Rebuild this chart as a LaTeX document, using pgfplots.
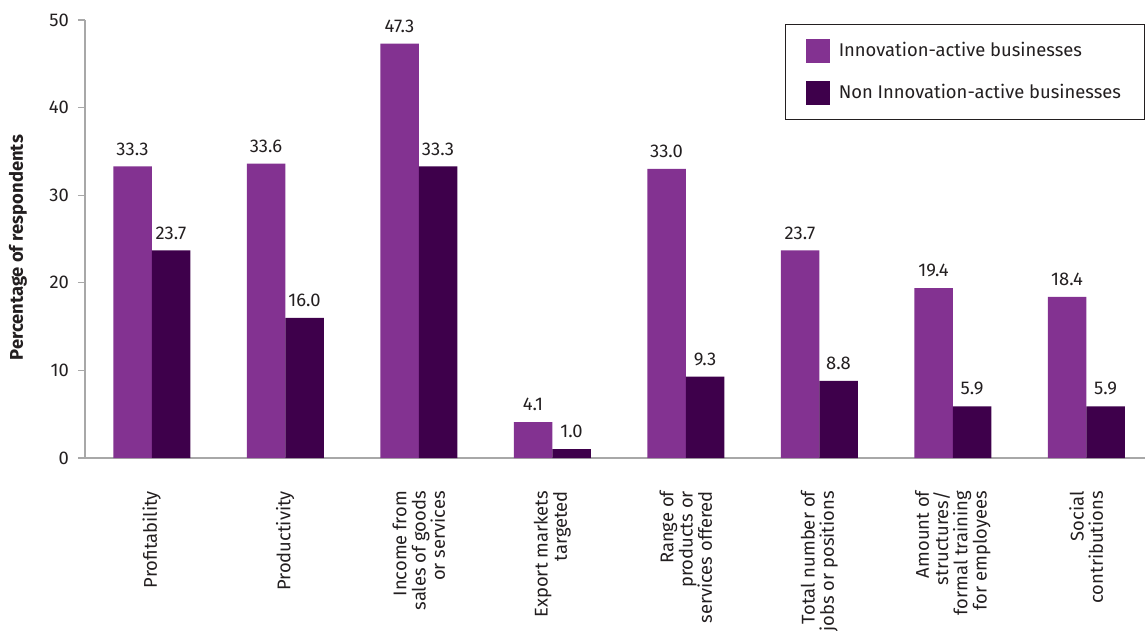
\documentclass[border=0pt]{standalone}
\usepackage{pgfplots}
\pgfplotsset{compat=1.18}
\usepackage{fontspec}
\setmainfont{Fira Sans}
\definecolor{innov}{HTML}{833291}
\definecolor{noninnov}{HTML}{3E004B}
\definecolor{txt}{HTML}{231F20}
\definecolor{axgray}{HTML}{A8A8A8}
\newcommand{\lblfont}{\fontsize{9.2}{9.6}\selectfont}
\begin{document}
\begin{tikzpicture}
\path[use as bounding box] (-42.5pt,-86.5pt) rectangle (530pt,229pt);
\begin{axis}[
  scale only axis,
  width=530pt, height=219pt,
  xmin=-0.5, xmax=7.44,
  ymin=0, ymax=50,
  ytick={0,10,20,30,40,50},
  xtick={0,1,2,3,4,5,6,7},
  xticklabels={Profitability,Productivity,{Income from\\sales of goods\\or services},{Export markets\\targeted},{Range of\\products or\\services offered},{Total number of\\jobs or positions},{Amount of\\structures/\\formal training\\for employees},{Social\\contributions}},
  extra x ticks={-0.5,0.5,1.5,2.5,3.5,4.5,5.5,6.5,7.5},
  extra x tick labels={},
  extra x tick style={major tick length=4.5pt, tick style={axgray, line width=0.6pt}},
  axis x line*=bottom, axis y line*=left,
  axis line style={-, axgray, line width=0.6pt},
  tick align=outside,
  x tick style={draw=none},
  y tick style={axgray, line width=0.6pt},
  major tick length=3.5pt,
  /pgf/number format/assume math mode=true,
  tick label style={font=\lblfont, text=txt},
  yticklabel style={xshift=-1pt},
  xticklabel style={rotate=90, anchor=east, align=right, xshift=-9.5pt},
  ylabel={\bfseries Percentage of respondents},
  ylabel style={at={(axis description cs:-0.0632,0.48)}, anchor=center, font=\lblfont, text=txt},
  ybar=0pt, bar width=19.25pt,
  nodes near coords,
  nodes near coords style={font=\lblfont, text=txt, yshift=2pt,
    /pgf/number format/fixed, /pgf/number format/precision=1, /pgf/number format/zerofill, /pgf/number format/assume math mode=true},
  legend style={at={(rel axis cs:0.6605,0.991)}, anchor=north west, draw=txt, line width=0.6pt,
    font=\lblfont, text=txt, inner xsep=10pt, inner ysep=7pt, row sep=8pt,
    /tikz/every odd column/.append style={column sep=2.5pt}},
  legend cell align=left,
  legend image code/.code={\fill[#1] (0pt,-6pt) rectangle (12pt,6pt);},
]
\addplot[fill=innov, draw=none] coordinates {(0,33.3) (1,33.6) (2,47.3) (3,4.1) (4,33.0) (5,23.7) (6,19.4) (7,18.4)};
\addplot[fill=noninnov, draw=none] coordinates {(0,23.7) (1,16.0) (2,33.3) (3,1.0) (4,9.3) (5,8.8) (6,5.9) (7,5.9)};
\legend{Innovation-active businesses, Non Innovation-active businesses}
\end{axis}
\end{tikzpicture}
\end{document}
